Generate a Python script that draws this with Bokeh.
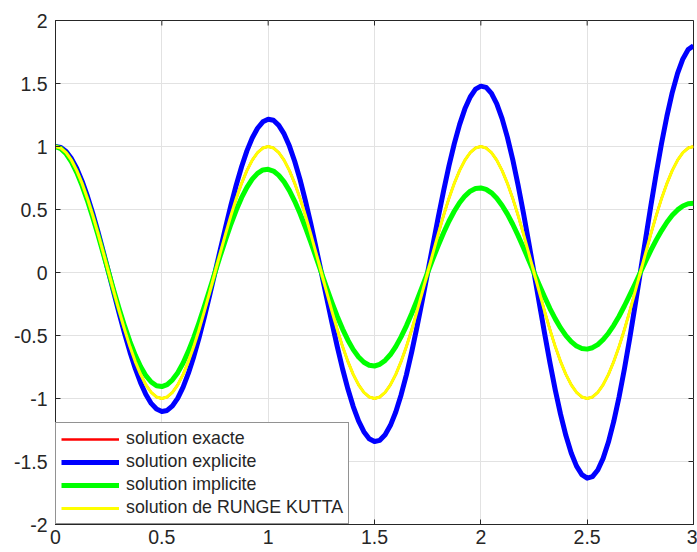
import math
from bokeh.plotting import figure
from bokeh.models import FixedTicker, Legend, LegendItem, Range1d
from bokeh.embed import file_html
from bokeh.resources import INLINE

# ---- data (t step 0.025) ----
t = [round(0.025 * i, 3) for i in range(121)]

exacte = [1.000, 0.988, 0.951, 0.891, 0.809, 0.707, 0.588, 0.454, 0.309, 0.156,
          0.000, -0.156, -0.309, -0.454, -0.588, -0.707, -0.809, -0.891, -0.951, -0.988,
          -1.000, -0.988, -0.951, -0.891, -0.809, -0.707, -0.588, -0.454, -0.309, -0.156,
          0.000, 0.156, 0.309, 0.454, 0.588, 0.707, 0.809, 0.891, 0.951, 0.988,
          1.000, 0.988, 0.951, 0.891, 0.809, 0.707, 0.588, 0.454, 0.309, 0.156,
          0.000, -0.156, -0.309, -0.454, -0.588, -0.707, -0.809, -0.891, -0.951, -0.988,
          -1.000, -0.988, -0.951, -0.891, -0.809, -0.707, -0.588, -0.454, -0.309, -0.156,
          0.000, 0.156, 0.309, 0.454, 0.588, 0.707, 0.809, 0.891, 0.951, 0.988,
          1.000, 0.988, 0.951, 0.891, 0.809, 0.707, 0.588, 0.454, 0.309, 0.156,
          0.000, -0.156, -0.309, -0.454, -0.588, -0.707, -0.809, -0.891, -0.951, -0.988,
          -1.000, -0.988, -0.951, -0.891, -0.809, -0.707, -0.588, -0.454, -0.309, -0.156,
          0.000, 0.156, 0.309, 0.454, 0.588, 0.707, 0.809, 0.891, 0.951, 0.988,
          1.000]

explicite = [1.000, 0.993, 0.960, 0.904, 0.825, 0.725, 0.606, 0.470, 0.321, 0.163,
             0.000, -0.165, -0.328, -0.484, -0.630, -0.761, -0.875, -0.968, -1.039, -1.084,
             -1.103, -1.095, -1.059, -0.997, -0.910, -0.799, -0.668, -0.518, -0.354, -0.180,
             0.000, 0.182, 0.361, 0.534, 0.695, 0.839, 0.965, 1.068, 1.145, 1.196,
             1.216, 1.208, 1.168, 1.100, 1.003, 0.881, 0.737, 0.571, 0.391, 0.198,
             0.000, -0.200, -0.399, -0.588, -0.766, -0.925, -1.064, -1.178, -1.263, -1.319,
             -1.341, -1.332, -1.288, -1.213, -1.107, -0.972, -0.812, -0.630, -0.431, -0.219,
             0.000, 0.221, 0.440, 0.649, 0.845, 1.021, 1.174, 1.299, 1.393, 1.455,
             1.479, 1.469, 1.421, 1.338, 1.221, 1.072, 0.896, 0.695, 0.475, 0.241,
             0.000, -0.244, -0.485, -0.716, -0.932, -1.126, -1.294, -1.433, -1.537, -1.604,
             -1.632, -1.620, -1.567, -1.475, -1.346, -1.182, -0.988, -0.767, -0.524, -0.266,
             0.000, 0.269, 0.535, 0.789, 1.027, 1.241, 1.428, 1.580, 1.695, 1.769,
             1.800]

implicite = [1.000, 0.983, 0.942, 0.878, 0.793, 0.690, 0.571, 0.438, 0.297, 0.149,
             0.000, -0.148, -0.291, -0.426, -0.548, -0.656, -0.747, -0.819, -0.869, -0.899,
             -0.905, -0.890, -0.852, -0.795, -0.718, -0.624, -0.517, -0.397, -0.269, -0.135,
             0.000, 0.134, 0.263, 0.385, 0.496, 0.594, 0.676, 0.741, 0.787, 0.814,
             0.819, 0.805, 0.771, 0.719, 0.650, 0.565, 0.468, 0.359, 0.243, 0.122,
             0.000, -0.121, -0.238, -0.349, -0.449, -0.537, -0.612, -0.671, -0.712, -0.736,
             -0.742, -0.729, -0.698, -0.651, -0.588, -0.511, -0.423, -0.325, -0.220, -0.111,
             0.000, 0.110, 0.216, 0.316, 0.407, 0.486, 0.554, 0.607, 0.645, 0.666,
             0.671, 0.660, 0.632, 0.589, 0.532, 0.463, 0.383, 0.294, 0.199, 0.100,
             0.000, -0.099, -0.195, -0.286, -0.368, -0.440, -0.501, -0.549, -0.584, -0.603,
             -0.608, -0.597, -0.572, -0.533, -0.482, -0.419, -0.347, -0.266, -0.180, -0.091,
             0.000, 0.090, 0.177, 0.259, 0.333, 0.399, 0.454, 0.497, 0.528, 0.546,
             0.550]

rk = [1.000, 0.988, 0.951, 0.891, 0.809, 0.707, 0.588, 0.454, 0.309, 0.156,
      0.000, -0.156, -0.309, -0.454, -0.588, -0.707, -0.809, -0.891, -0.951, -0.988,
      -1.000, -0.988, -0.951, -0.891, -0.809, -0.707, -0.588, -0.454, -0.309, -0.156,
      0.000, 0.156, 0.309, 0.454, 0.588, 0.707, 0.809, 0.891, 0.951, 0.988,
      1.000, 0.988, 0.951, 0.891, 0.809, 0.707, 0.588, 0.454, 0.309, 0.156,
      0.000, -0.156, -0.309, -0.454, -0.588, -0.707, -0.809, -0.891, -0.951, -0.988,
      -1.000, -0.988, -0.951, -0.891, -0.809, -0.707, -0.588, -0.454, -0.309, -0.156,
      0.000, 0.156, 0.309, 0.454, 0.588, 0.707, 0.809, 0.891, 0.951, 0.988,
      1.000, 0.988, 0.951, 0.891, 0.809, 0.707, 0.588, 0.454, 0.309, 0.156,
      0.000, -0.156, -0.309, -0.454, -0.588, -0.707, -0.809, -0.891, -0.951, -0.988,
      -1.000, -0.988, -0.951, -0.891, -0.809, -0.707, -0.588, -0.454, -0.309, -0.156,
      0.000, 0.156, 0.309, 0.454, 0.588, 0.707, 0.809, 0.891, 0.951, 0.988,
      1.000]

x_ticks = [0, 0.5, 1, 1.5, 2, 2.5, 3]
x_tick_labels = ["0", "0.5", "1", "1.5", "2", "2.5", "3"]
y_ticks = [-2, -1.5, -1, -0.5, 0, 0.5, 1, 1.5, 2]
y_tick_labels = ["-2", "-1.5", "-1", "-0.5", "0", "0.5", "1", "1.5", "2"]

labels = ["solution exacte", "solution explicite", "solution implicite",
          "solution de RUNGE KUTTA"]

# ---- figure ----
AX = "#262626"
FONT = "Liberation Sans"
X0, X1 = x_ticks[0], x_ticks[-1]
Y0, Y1 = y_ticks[0], y_ticks[-1]

p = figure(width=697, height=552, output_backend="svg", toolbar_location=None,
           x_range=Range1d(X0, X1), y_range=Range1d(Y0, Y1),
           min_border_left=55, min_border_top=20, min_border_bottom=28,
           min_border_right=4, background_fill_color="white",
           border_fill_color="white")
p.outline_line_color = AX
p.outline_line_width = 1

for ax, ticks, labs in ((p.xaxis[0], x_ticks, x_tick_labels),
                        (p.yaxis[0], y_ticks, y_tick_labels)):
    ax.ticker = FixedTicker(ticks=ticks)
    ax.major_label_overrides = {v: s for v, s in zip(ticks, labs)}
    ax.major_tick_in = 5
    ax.major_tick_out = 0
    ax.minor_tick_line_color = None
    ax.axis_line_color = AX
    ax.major_tick_line_color = AX
    ax.major_label_text_color = AX
    ax.major_label_text_font = FONT
    ax.major_label_text_font_size = "19.5px"
p.xaxis[0].major_label_standoff = 5
p.yaxis[0].major_label_standoff = 8

# box ticks on the top and right edges (inward, like the reference)
p.ray(x=x_ticks, y=[Y1] * len(x_ticks), length=5, length_units="screen",
      angle=-math.pi / 2, line_color=AX, line_width=1)
p.ray(x=[X1] * len(y_ticks), y=y_ticks, length=5, length_units="screen",
      angle=math.pi, line_color=AX, line_width=1)

p.xgrid.ticker = FixedTicker(ticks=x_ticks)
p.ygrid.ticker = FixedTicker(ticks=y_ticks)
p.grid.grid_line_color = "#e2e2e2"
p.grid.grid_line_width = 1

r1 = p.line(t, exacte, line_color="#ff0000", line_width=2.4, line_join="round")
r2 = p.line(t, explicite, line_color="#0000ff", line_width=5, line_join="round")
r3 = p.line(t, implicite, line_color="#00ff00", line_width=5, line_join="round")
r4 = p.line(t, rk, line_color="#ffff00", line_width=3, line_join="round")

legend = Legend(items=[LegendItem(label=l, renderers=[r]) for l, r in
                       zip(labels, [r1, r2, r3, r4])],
                location=(0, 0), orientation="vertical",
                glyph_width=58, glyph_height=20, label_height=20,
                label_standoff=7, padding=5, spacing=2, margin=0,
                label_text_font=FONT, label_text_font_size="17.8px",
                label_text_color=AX, border_line_color=AX, border_line_width=1,
                background_fill_color="white", background_fill_alpha=1.0)
p.add_layout(legend, "center")

open("out.html", "w").write(file_html(p, INLINE))
